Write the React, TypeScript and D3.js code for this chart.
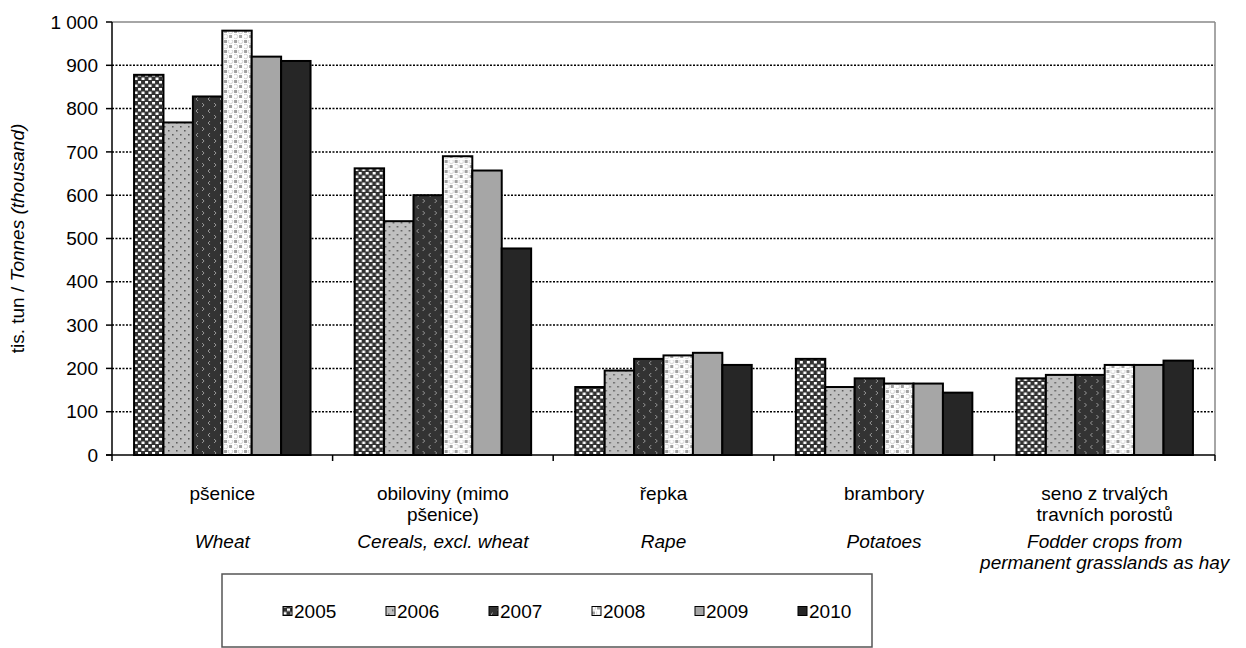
import React from 'react';
import * as d3 from 'd3';

const years = ['2005', '2006', '2007', '2008', '2009', '2010'];
const czLabels = [['pšenice'], ['obiloviny (mimo', 'pšenice)'], ['řepka'], ['brambory'], ['seno z trvalých', 'travních porostů']];
const enLabels = [['Wheat'], ['Cereals, excl. wheat'], ['Rape'], ['Potatoes'], ['Fodder crops from', 'permanent grasslands as hay']];
const categories = ['wheat', 'cereals', 'rape', 'potatoes', 'fodder'];
const v2005 = [878, 662, 157, 222, 177];
const v2006 = [768, 540, 195, 157, 185];
const v2007 = [828, 600, 222, 177, 185];
const v2008 = [980, 690, 230, 165, 208];
const v2009 = [920, 657, 236, 165, 208];
const v2010 = [910, 477, 208, 144, 218];
const series = [v2005, v2006, v2007, v2008, v2009, v2010];
const yTicks = [0, 100, 200, 300, 400, 500, 600, 700, 800, 900, 1000];

const W = 1246;
const H = 648;
const left = 112, right = 1215, top = 22, bottom = 455;
const fills = ['url(#p2005)', 'url(#p2006)', 'url(#p2007)', 'url(#p2008)', '#a6a6a6', '#262626'];
const font = 'Liberation Sans, Arial, sans-serif';

const fmt = (v: number) => (v >= 1000 ? d3.format(',')(v).replace(',', ' ') : String(v));

export default function App() {
  const x0 = d3.scaleBand<string>().domain(categories).range([left, right]).paddingInner(0.2).paddingOuter(0.1);
  const x1 = d3.scaleBand<string>().domain(years).range([0, x0.bandwidth()]).padding(0);
  const y = d3.scaleLinear().domain([0, 1000]).range([bottom, top]);
  const step = x0.step();
  const bounds = d3.range(categories.length + 1).map(i => left + i * step);

  // legend layout
  const lgX = 222, lgY = 574, lgW = 650, lgH = 73;
  const itemW = 103;
  const lgStart = 283;

  return (
    <div style={{ position: 'absolute', left: 0, top: 0 }}>
      <svg width={W} height={H} style={{ display: 'block', background: '#fff' }} fontFamily={font}>
        <defs>
          <pattern id="p2005" width="7" height="7" patternUnits="userSpaceOnUse">
            <rect width="7" height="7" fill="#333" />
            <rect x="0.5" y="0.5" width="3" height="2.5" fill="#fff" />
            <rect x="4" y="4" width="3" height="2.5" fill="#fff" />
          </pattern>
          <pattern id="p2006" width="8" height="8" patternUnits="userSpaceOnUse">
            <rect width="8" height="8" fill="#c0c0c0" />
            <rect x="2" y="2" width="1.5" height="1.5" fill="#555" />
            <rect x="6" y="6" width="1.5" height="1.5" fill="#555" />
          </pattern>
          <pattern id="p2007" width="12" height="12" patternUnits="userSpaceOnUse">
            <rect width="12" height="12" fill="#333" />
            <path d="M4,1 L2,3 L4,5" stroke="#999" strokeWidth="1" fill="none" />
            <path d="M8,7 L10,9 L8,11" stroke="#999" strokeWidth="1" fill="none" />
          </pattern>
          <pattern id="p2008" width="10" height="10" patternUnits="userSpaceOnUse">
            <rect width="10" height="10" fill="#fff" />
            <rect x="0" y="0" width="3" height="3" fill="#a0a0a0" />
            <rect x="5" y="5" width="3" height="3" fill="#a0a0a0" />
            <circle cx="6.5" cy="1.5" r="2.2" fill="#fff" stroke="#c8c8c8" strokeWidth="0.8" />
            <circle cx="1.5" cy="6.5" r="2.2" fill="#fff" stroke="#c8c8c8" strokeWidth="0.8" />
          </pattern>
        </defs>

        {/* grid */}
        {yTicks.filter(t => t > 0 && t < 1000).map(t => (
          <line key={t} x1={left} x2={right} y1={y(t)} y2={y(t)} stroke="#000" strokeWidth={1.5} strokeDasharray="2,1.5" />
        ))}
        <line x1={left} x2={right} y1={y(1000)} y2={y(1000)} stroke="#888" strokeWidth={1.5} />
        <line x1={right} x2={right} y1={top} y2={bottom} stroke="#888" strokeWidth={1.5} />

        {/* bars */}
        {categories.map((c, ci) => (
          <g key={c} transform={`translate(${x0(c)},0)`}>
            {years.map((yr, si) => (
              <rect key={yr} x={x1(yr)} y={y(series[si][ci])} width={x1.bandwidth()} height={bottom - y(series[si][ci])}
                fill={fills[si]} stroke="#000" strokeWidth={2} />
            ))}
          </g>
        ))}

        {/* axes */}
        <line x1={left} x2={left} y1={top} y2={bottom} stroke="#000" strokeWidth={1.5} />
        <line x1={left - 6} x2={right} y1={bottom} y2={bottom} stroke="#000" strokeWidth={1.5} />
        {yTicks.map(t => (
          <g key={t}>
            <line x1={left - 6} x2={left} y1={y(t)} y2={y(t)} stroke="#000" strokeWidth={1.5} />
            <text x={left - 14} y={y(t)} dy="0.35em" textAnchor="end" fontSize={19} fill="#000">{fmt(t)}</text>
          </g>
        ))}
        {bounds.map((b, i) => (
          <line key={i} x1={b} x2={b} y1={bottom} y2={bottom + 6} stroke="#000" strokeWidth={1.5} />
        ))}

        {/* category labels */}
        {categories.map((c, ci) => {
          const cx = (x0(c) ?? 0) + x0.bandwidth() / 2;
          return (
            <g key={c}>
              {czLabels[ci].map((l, li) => (
                <text key={'cz' + li} x={cx} y={500 + li * 21} textAnchor="middle" fontSize={19} fill="#000">{l}</text>
              ))}
              {enLabels[ci].map((l, li) => (
                <text key={'en' + li} x={cx} y={548 + li * 21} textAnchor="middle" fontSize={19} fontStyle="italic" fill="#000">{l}</text>
              ))}
            </g>
          );
        })}

        {/* y title */}
        <text transform={`translate(24,${(top + bottom) / 2}) rotate(-90)`} textAnchor="middle" fontSize={19} fill="#000">
          tis. tun / <tspan fontStyle="italic">Tonnes (thousand)</tspan>
        </text>

        {/* legend */}
        <rect x={lgX} y={lgY} width={lgW} height={lgH} fill="#fff" stroke="#555" strokeWidth={1.5} />
        {years.map((yr, si) => (
          <g key={yr} transform={`translate(${lgStart + si * itemW},${lgY + lgH / 2 + 1})`}>
            <rect x={0} y={-5} width={9} height={9} fill={fills[si]} stroke="#000" strokeWidth={1} />
            <text x={11} y={0} dy="0.35em" fontSize={19} fill="#000">{yr}</text>
          </g>
        ))}
      </svg>
    </div>
  );
}
